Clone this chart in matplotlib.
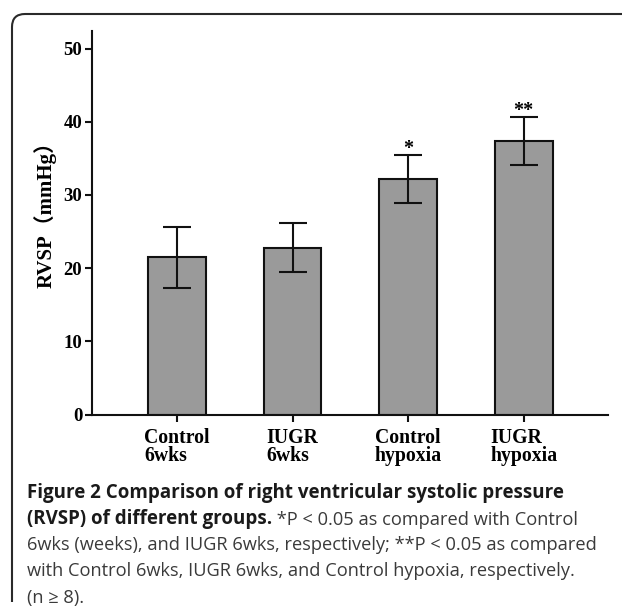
import matplotlib.pyplot as plt
from matplotlib.path import Path
from matplotlib.patches import PathPatch

groups = ["Control\n6wks", "IUGR\n6wks", "Control\nhypoxia", "IUGR\nhypoxia"]
rvsp = [21.5, 22.8, 32.2, 37.4]
sem = [4.15, 3.3, 3.3, 3.3]
marks = ["", "", "*", "**"]

caption_bold_1 = "Figure 2 Comparison of right ventricular systolic pressure"
caption_bold_2 = "(RVSP) of different groups."
caption_rest_2 = " *P < 0.05 as compared with Control"
caption_lines = [
    "6wks (weeks), and IUGR 6wks, respectively; **P < 0.05 as compared",
    "with Control 6wks, IUGR 6wks, and Control hypoxia, respectively.",
    "(n \u2265 8).",
]

W, H = 622, 611
fig = plt.figure(figsize=(W / 100, H / 100), dpi=100)
ax = fig.add_axes([92 / W, 196.5 / H, 516 / W, 383.5 / H])

serif = ["Liberation Serif", "Noto Sans CJK SC", "DejaVu Sans"]
x = list(range(len(groups)))

ax.bar(x, rvsp, width=0.5, color="#9a9a9a", edgecolor="#111111", linewidth=1.5,
       yerr=sem, capsize=10.3,
       error_kw=dict(elinewidth=1.5, capthick=1.5, ecolor="#111111"), zorder=2)

# significance stars above the error caps
for i, m in enumerate(marks):
    if m:
        ax.annotate(m, (x[i], rvsp[i] + sem[i]), xytext=(0, 0.5), textcoords="offset points",
                    ha="center", va="baseline", fontsize=14.5, fontweight="bold", family=serif)

ax.set_xlim(-0.735, 3.73)
ax.set_ylim(0, 52.4)
ax.set_yticks([0, 10, 20, 30, 40, 50])
ax.set_xticks(x)
ax.set_xticklabels(groups)

for s in ["top", "right"]:
    ax.spines[s].set_visible(False)
for s in ["left", "bottom"]:
    ax.spines[s].set_linewidth(1.5)
    ax.spines[s].set_color("#111111")

ax.tick_params(axis="both", direction="out", length=5, width=1.5, color="#111111")
ax.tick_params(axis="y", pad=2)
ax.tick_params(axis="x", pad=5)
for lab in ax.get_yticklabels():
    lab.set_fontfamily(serif)
    lab.set_fontweight("bold")
    lab.set_fontsize(13.5)
for lab in ax.get_xticklabels():
    lab.set_fontfamily(serif)
    lab.set_fontweight("bold")
    lab.set_fontsize(14.2)
    lab.set_multialignment("left")
    lab.set_linespacing(0.84)

fig.text(45.5 / W, 1 - 209 / H, "RVSP\uff08mmHg\uff09", rotation=90, ha="center", va="center",
         fontsize=15, fontweight="bold", family=serif)

# caption under the chart
sans = ["Open Sans", "DejaVu Sans"]
cap_x = 27 / W
fig.text(cap_x, 1 - 498 / H, caption_bold_1, fontsize=13.5, fontweight="bold",
         family=sans, color="#1a1a1a", va="baseline")
t2 = fig.text(cap_x, 1 - 524 / H, caption_bold_2, fontsize=13.5, fontweight="bold",
              family=sans, color="#1a1a1a", va="baseline")
ax.annotate(caption_rest_2, xy=(1, 0), xycoords=t2, fontsize=13.15, family=sans,
            color="#3a3a3a", va="bottom", annotation_clip=False)
for k, line in enumerate(caption_lines):
    fig.text(cap_x, 1 - (550 + 26.3 * k) / H, line, fontsize=13.15, family=sans,
             color="#3a3a3a", va="baseline")

# rounded frame (only top-left corner visible)
verts = [(0.12, 0.09), (0.12, 5.84), (0.12, 5.97), (0.25, 5.97), (6.4, 5.97)]
codes = [Path.MOVETO, Path.LINETO, Path.CURVE3, Path.CURVE3, Path.LINETO]
fig.patches.append(PathPatch(Path(verts, codes), fill=False, edgecolor="#2a2a2a",
                             linewidth=1.5, transform=fig.dpi_scale_trans))

fig.savefig("out.png", dpi=100)
